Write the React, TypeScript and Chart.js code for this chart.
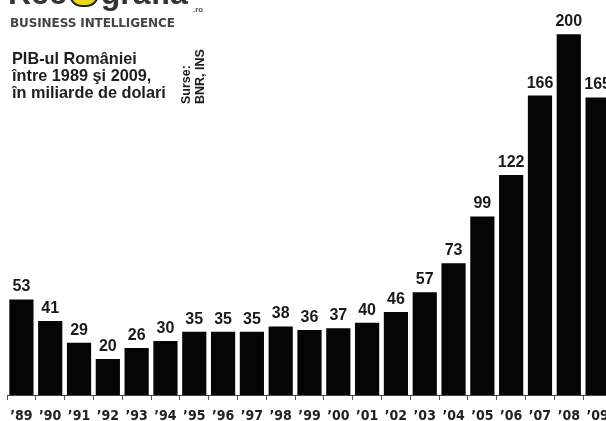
import React, { useEffect, useRef } from "react";
import { Chart, registerables } from "chart.js";

Chart.register(...registerables);

const years = ["’89", "’90", "’91", "’92", "’93", "’94", "’95", "’96", "’97", "’98", "’99", "’00", "’01", "’02", "’03", "’04", "’05", "’06", "’07", "’08", "’09"];
const gdp = [53, 41, 29, 20, 26, 30, 35, 35, 35, 38, 36, 37, 40, 46, 57, 73, 99, 122, 166, 200, 165];
const titleLines = ["PIB-ul României", "între 1989 şi 2009,", "în miliarde de dolari"];
const sourceLines = ["Surse:", "BNR, INS"];

const valueLabels = {
  id: "valueLabels",
  afterDatasetsDraw(chart: any) {
    const ctx = chart.ctx;
    const meta = chart.getDatasetMeta(0);
    ctx.save();
    ctx.font = "bold 16px 'Liberation Sans', Arial, sans-serif";
    ctx.fillStyle = "#1a1a1a";
    ctx.textAlign = "center";
    ctx.textBaseline = "alphabetic";
    meta.data.forEach((bar: any, i: number) => {
      ctx.fillText(String(chart.data.datasets[0].data[i]), bar.x, bar.y - 8);
    });
    ctx.restore();
  },
};

export default function App() {
  const ref = useRef<HTMLCanvasElement>(null);
  useEffect(() => {
    document.body.style.margin = "0";
    document.body.style.overflow = "hidden";
    const chart = new Chart(ref.current!, {
      type: "bar",
      data: {
        labels: years,
        datasets: [
          {
            data: gdp,
            backgroundColor: "#050505",
            borderWidth: 0,
            categoryPercentage: 1,
            barPercentage: 0.84,
          },
        ],
      },
      options: {
        responsive: false,
        animation: false,
        devicePixelRatio: 1,
        layout: { padding: { left: 7, right: 0, top: 0, bottom: 0 } },
        plugins: { legend: { display: false }, tooltip: { enabled: false }, title: { display: false } },
        scales: {
          x: {
            type: "category",
            offset: true,
            grid: { offset: true, drawOnChartArea: false, drawTicks: true, tickLength: 5, color: "#555", lineWidth: 1 },
            border: { display: true, color: "#444", width: 1 },
            ticks: {
              autoSkip: false,
              maxRotation: 0,
              padding: 8,
              color: "#222",
              font: { family: "'Liberation Sans Narrow', 'DejaVu Sans Condensed', sans-serif", weight: "bold", size: 14 },
            },
            afterFit: (s: any) => {
              s.height = 26;
              s.paddingLeft = 0;
              s.paddingRight = 0;
            },
          },
          y: { display: false, min: 0, max: 219 },
        },
      },
      plugins: [valueLabels],
    } as any);
    return () => chart.destroy();
  }, []);

  return (
    <div style={{ position: "fixed", left: 0, top: 0, width: 606, height: 421, overflow: "hidden", background: "#fff" }}>
      <canvas ref={ref} width={612} height={421} style={{ position: "absolute", left: 0, top: 0, width: 612, height: 421 }} />
      <div style={{ position: "absolute", left: 8, top: -23, fontFamily: "'Liberation Sans', Arial, sans-serif", fontWeight: "bold", fontSize: 32, color: "#333", whiteSpace: "nowrap", lineHeight: "30px" }}>
        Rec
        <span style={{ display: "inline-block", width: 26, height: 26, borderRadius: 13, background: "#e8d81c", border: "2px solid #222", verticalAlign: "-3px", margin: "0 2px" }} />
        grafia
      </div>
      <div style={{ position: "absolute", left: 193, top: 5, fontFamily: "'Liberation Sans', Arial, sans-serif", fontWeight: "bold", fontSize: 8, color: "#555" }}>.ro</div>
      <div style={{ position: "absolute", left: 10, top: 16, fontFamily: "'DejaVu Sans', sans-serif", fontWeight: "bold", fontSize: 12, color: "#444", letterSpacing: -0.1, whiteSpace: "nowrap" }}>
        BUSINESS INTELLIGENCE
      </div>
      <div style={{ position: "absolute", left: 12, top: 50, fontFamily: "'Liberation Sans', Arial, sans-serif", fontWeight: "bold", fontSize: 16.3, lineHeight: "16.8px", color: "#1e1e1e", whiteSpace: "nowrap" }}>
        {titleLines.map((l) => (
          <div key={l}>{l}</div>
        ))}
      </div>
      <div style={{ position: "absolute", left: 179, top: 104, width: 56, transform: "rotate(-90deg)", transformOrigin: "0 0", fontFamily: "'Liberation Sans', Arial, sans-serif", fontWeight: "bold", fontSize: 12.5, lineHeight: "14px", color: "#1e1e1e", whiteSpace: "nowrap" }}>
        {sourceLines.map((l) => (
          <div key={l}>{l}</div>
        ))}
      </div>
    </div>
  );
}
